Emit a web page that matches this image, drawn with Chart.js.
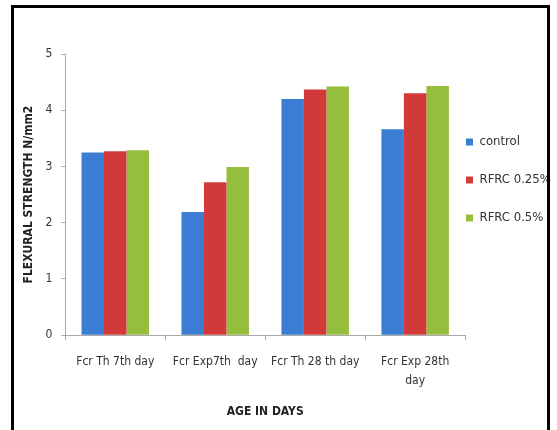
<!DOCTYPE html>
<html>
<head>
<meta charset="utf-8">
<script src="https://cdn.jsdelivr.net/npm/chart.js@4"></script>
<style>
  body { margin: 0; background: #fff; }
  #wrap { position: relative; width: 557px; height: 430px; }
  #frame { position: absolute; left: 11px; top: 5px; width: 539px; height: 430px;
           border: 3px solid #000; border-bottom: none; box-sizing: border-box; }
  canvas { position: absolute; left: 0; top: 0; }
</style>
</head>
<body>
<div id="wrap">
  <canvas id="myChart" width="557" height="430"></canvas>
  <div id="frame"></div>
</div>
<script>
const categories = [["Fcr Th 7th day"], ["Fcr Exp7th  day"], ["Fcr Th 28 th day"], ["Fcr Exp 28th", "day"]];
const controlValues = [3.25, 2.19, 4.20, 3.66];
const rfrc025Values = [3.27, 2.72, 4.37, 4.30];
const rfrc05Values = [3.29, 2.99, 4.42, 4.43];
const yTicks = [0, 1, 2, 3, 4, 5];

const fontFam = "'DejaVu Sans Condensed', 'Liberation Sans Narrow', 'Liberation Sans', sans-serif";

// nudge the legend closer to the bars and up, like the excel original
const legendNudge = {
  id: "legendNudge",
  afterLayout: (chart) => {
    const l = chart.legend;
    if (!l) return;
    const dy = (l.top + l.bottom) / 2 - 180;
    const dx = l.left - 441;
    l.top -= dy;
    l.bottom -= dy;
    l.left -= dx;
    l.right -= dx;
  },
};

const ctx = document.getElementById("myChart").getContext("2d");
const myChart = new Chart(ctx, {
  type: "bar",
  data: {
    labels: categories,
    datasets: [
      { label: "control", data: controlValues, backgroundColor: "#3b7dd2" },
      { label: "RFRC 0.25%", data: rfrc025Values, backgroundColor: "#d23a3a" },
      { label: "RFRC 0.5%", data: rfrc05Values, backgroundColor: "#96be3e" },
    ],
  },
  plugins: [legendNudge],
  options: {
    responsive: false,
    animation: false,
    layout: { padding: { left: 18, top: 54, right: -28, bottom: 0 } },
    datasets: {
      bar: { categoryPercentage: 0.675, barPercentage: 1.0, borderWidth: 0 },
    },
    plugins: {
      legend: {
        position: "right",
        align: "center",
        labels: {
          boxWidth: 7,
          boxHeight: 7,
          padding: 25,
          color: "#333",
          font: { family: fontFam, size: 13 },
        },
      },
      tooltip: { enabled: false },
    },
    scales: {
      x: {
        grid: { display: true, drawOnChartArea: false, color: "#aaa", tickLength: 5, offset: true },
        border: { color: "#aaa" },
        ticks: { color: "#333", font: { family: fontFam, size: 12, lineHeight: 1.6 }, padding: 12, maxRotation: 0, autoSkip: false },
        title: { display: true, text: "AGE IN DAYS", color: "#222", font: { family: fontFam, size: 12, weight: "bold" }, padding: { top: 2, bottom: 11 } },
      },
      y: {
        min: yTicks[0],
        max: yTicks[yTicks.length - 1],
        afterBuildTicks: (axis) => { axis.ticks = yTicks.map(v => ({ value: v })); },
        grid: { display: true, drawOnChartArea: false, color: "#aaa", tickLength: 4 },
        border: { color: "#aaa" },
        ticks: { color: "#333", font: { family: fontFam, size: 12 }, padding: 9 },
        title: { display: true, text: "FLEXURAL STRENGTH N/mm2", color: "#222", font: { family: fontFam, size: 12, weight: "bold" }, padding: { top: 4, bottom: 0 } },
      },
    },
  },
});
</script>
</body>
</html>
